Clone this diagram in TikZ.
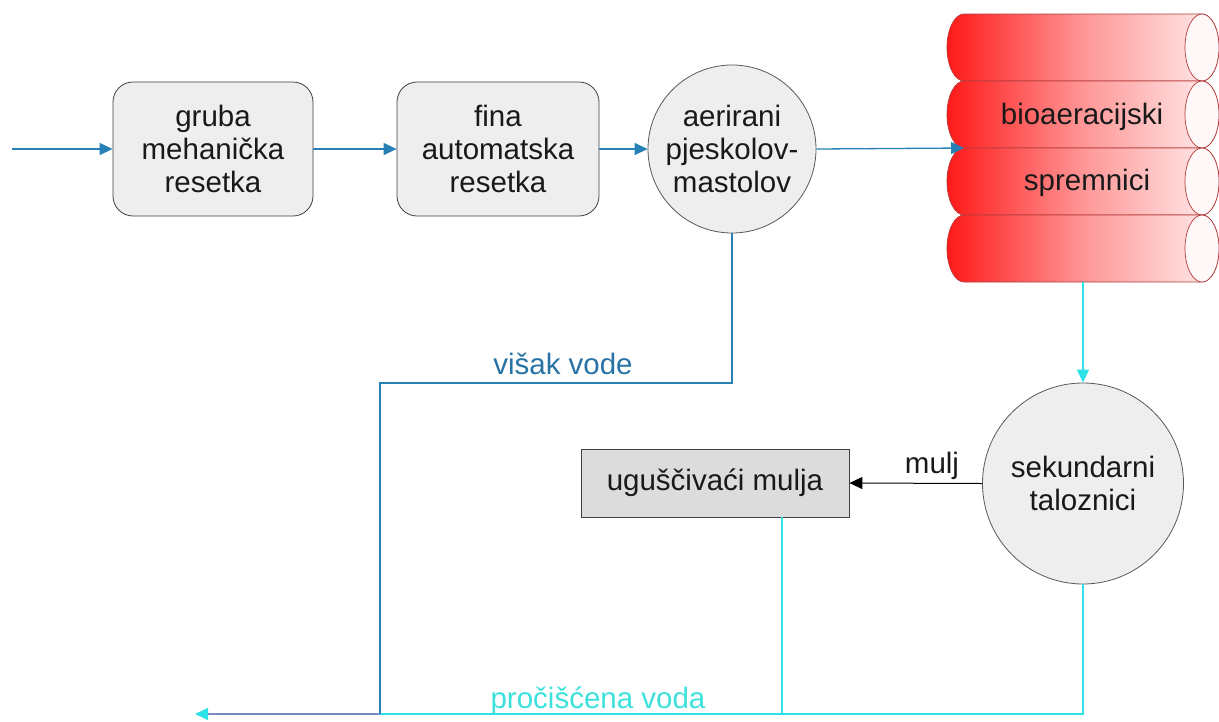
\documentclass[tikz,border=0pt]{standalone}
\usepackage{fontspec}
\setmainfont{Liberation Sans}
\usetikzlibrary{arrows.meta}
\definecolor{flowblue}{RGB}{38,128,182}
\definecolor{flowcyan}{RGB}{45,225,232}
\definecolor{mixline}{RGB}{120,140,190}
\definecolor{txtblue}{RGB}{40,115,165}
\definecolor{txtcyan}{RGB}{60,225,220}
\definecolor{boxfill}{RGB}{238,238,238}
\definecolor{darkfill}{RGB}{220,220,220}
\definecolor{tankred}{RGB}{255,25,25}
\definecolor{tankmid}{RGB}{255,150,150}
\definecolor{tankpale}{RGB}{255,238,238}
\definecolor{tankedge}{RGB}{180,60,60}
\begin{document}
\begin{tikzpicture}[x=1pt,y=-1pt,
  every node/.style={font=\fontsize{29.5}{33}\selectfont, text=black!90, align=center, inner sep=0pt},
  rbox/.style={draw=black!75, fill=boxfill, rounded corners=20pt, minimum width=200pt, minimum height=134pt, line width=0.8pt},
  circ/.style={circle, draw=black!65, fill=boxfill, line width=0.8pt},
  sbox/.style={draw=black!75, fill=darkfill, minimum width=268pt, minimum height=68pt, line width=0.8pt},
  blueflow/.style={draw=flowblue, line width=1.3pt},
  cyanflow/.style={draw=flowcyan, line width=1.3pt},
  tip/.style={-{Triangle[length=13pt,width=12pt]}},
  tank/.style={draw=tankedge, line width=0.7pt, left color=tankred, right color=tankpale, middle color=tankmid},
  tankend/.style={draw=tankedge, line width=0.7pt, fill=tankpale!40!white}
]
\useasboundingbox (0,0) rectangle (1219,721);

% tanks
\foreach \t in {14,81,148,215}{
  \path[tank] (1202,\t) -- (964,\t)
    arc[start angle=270, end angle=90, x radius=17, y radius=33.5]
    -- (1202,\t+67)
    arc[start angle=90, end angle=-90, x radius=17, y radius=33.5] -- cycle;
  \path[tankend] (1202,\t+33.5) ellipse[x radius=17, y radius=33.5];
}
\node (t1) at (1082,117) {bioaeracijski};
\node (t2) at (1087,183) {spremnici};
\coordinate (tankin) at (964,148);
\coordinate (tankout) at (1083,282);

% nodes
\coordinate (in) at (12,149);
\node[rbox] (b1) at (213,149) {gruba\\mehanička\\resetka};
\node[rbox, minimum width=202pt] (b2) at (498,149) {fina\\automatska\\resetka};
\node[circ, minimum size=168pt] (c1) at (732,149) {aerirani\\pjeskolov-\\mastolov};
\node[circ, minimum size=201pt] (c2) at (1083,483.5) {sekundarni\\taloznici};
\node[sbox] (b3) at (715,483) {uguščivaći mulja};
\coordinate (out) at (195,714);

% connectors
\draw[blueflow, tip] (in) -- (b1.west);
\draw[blueflow, tip] (b1.east) -- (b2.west);
\draw[blueflow, tip] (b2.east) -- (c1.west);
\draw[blueflow, tip] (c1.east) -- (tankin);
\draw[cyanflow, tip] (tankout) -- (c2.north);
\draw[black, line width=1pt, tip] (c2.west) -- (b3.east);
\node[anchor=base] (mulj) at (932,473) {mulj};
\draw[cyanflow] (b3.south -| 782,0) -- (782,714);
\draw[cyanflow, tip] (c2.south) -- (1083,714) -- (out);
\draw[blueflow] (c1.south) -- (732,383) -- (380,383) -- (380,714);
\draw[mixline, line width=1.3pt] (380,714) -- ([xshift=13pt]out);

\node[text=txtblue, anchor=base] (visak) at (563,374) {višak vode};
\node[text=txtcyan, anchor=base] (procisc) at (598,708) {pročišćena voda};
\end{tikzpicture}
\end{document}
